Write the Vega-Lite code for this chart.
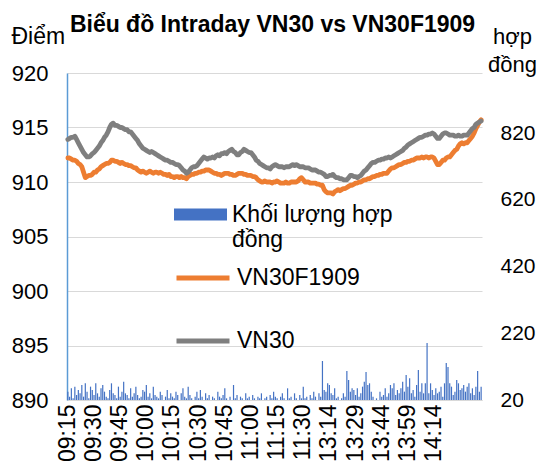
{
"$schema":"https://vega.github.io/schema/vega-lite/v6.json",
"width":415,"height":327,
"autosize":{"type":"none"},
"padding":{"left":67,"top":73,"right":68,"bottom":69},
"background":"white",
"config":{"font":"Liberation Sans","view":{"stroke":null},
"axis":{"labelFont":"Liberation Sans","titleFont":"Liberation Sans","labelColor":"black","titleColor":"black","labelFontSize":21,"titleFontSize":21,"titleFontWeight":"normal","ticks":false,"tickSize":0},
"legend":{"labelFont":"Liberation Sans","labelFontSize":23,"labelColor":"black"}},
"title":{"text":"Biểu đồ Intraday VN30 vs VN30F1909","font":"Liberation Sans","fontSize":23,"fontWeight":"bold","color":"black","frame":"group","anchor":"middle","dx":-2,"offset":-30,"baseline":"alphabetic"},
"data":{"values":[
{"t":"09:15","VN30":913.9,"VN30F1909":912.2,"v":45},
{"t":"09:16","VN30":914.0,"VN30F1909":912.2,"v":30},
{"t":"09:17","VN30":914.1,"VN30F1909":912.1,"v":55},
{"t":"09:18","VN30":914.1,"VN30F1909":912.0,"v":25},
{"t":"09:19","VN30":914.2,"VN30F1909":912.0,"v":60},
{"t":"09:20","VN30":913.9,"VN30F1909":911.9,"v":35},
{"t":"09:21","VN30":913.6,"VN30F1909":911.7,"v":50},
{"t":"09:22","VN30":913.3,"VN30F1909":911.6,"v":40},
{"t":"09:23","VN30":913.0,"VN30F1909":911.4,"v":65},
{"t":"09:24","VN30":912.7,"VN30F1909":910.9,"v":30},
{"t":"09:25","VN30":912.5,"VN30F1909":910.4,"v":70},
{"t":"09:26","VN30":912.3,"VN30F1909":910.5,"v":45},
{"t":"09:27","VN30":912.3,"VN30F1909":910.6,"v":25},
{"t":"09:28","VN30":912.4,"VN30F1909":910.6,"v":60},
{"t":"09:29","VN30":912.6,"VN30F1909":910.7,"v":50},
{"t":"09:30","VN30":912.7,"VN30F1909":910.9,"v":35},
{"t":"09:31","VN30":912.9,"VN30F1909":910.9,"v":70},
{"t":"09:32","VN30":913.1,"VN30F1909":911.1,"v":40},
{"t":"09:33","VN30":913.3,"VN30F1909":911.2,"v":30},
{"t":"09:34","VN30":913.6,"VN30F1909":911.4,"v":55},
{"t":"09:35","VN30":913.8,"VN30F1909":911.5,"v":65},
{"t":"09:36","VN30":914.1,"VN30F1909":911.6,"v":45},
{"t":"09:37","VN30":914.3,"VN30F1909":911.7,"v":30},
{"t":"09:38","VN30":914.6,"VN30F1909":911.7,"v":25},
{"t":"09:39","VN30":915.0,"VN30F1909":911.8,"v":50},
{"t":"09:40","VN30":915.3,"VN30F1909":912.0,"v":70},
{"t":"09:41","VN30":915.4,"VN30F1909":912.0,"v":40},
{"t":"09:42","VN30":915.2,"VN30F1909":911.9,"v":35},
{"t":"09:43","VN30":915.2,"VN30F1909":911.9,"v":25},
{"t":"09:44","VN30":915.1,"VN30F1909":911.8,"v":60},
{"t":"09:45","VN30":915.0,"VN30F1909":911.7,"v":30},
{"t":"09:46","VN30":915.0,"VN30F1909":911.8,"v":45},
{"t":"09:47","VN30":914.9,"VN30F1909":911.7,"v":75},
{"t":"09:48","VN30":914.8,"VN30F1909":911.6,"v":40},
{"t":"09:49","VN30":914.8,"VN30F1909":911.6,"v":35},
{"t":"09:50","VN30":914.6,"VN30F1909":911.5,"v":25},
{"t":"09:51","VN30":914.6,"VN30F1909":911.5,"v":55},
{"t":"09:52","VN30":914.4,"VN30F1909":911.4,"v":30},
{"t":"09:53","VN30":914.2,"VN30F1909":911.3,"v":40},
{"t":"09:54","VN30":914.0,"VN30F1909":911.3,"v":60},
{"t":"09:55","VN30":913.8,"VN30F1909":911.1,"v":35},
{"t":"09:56","VN30":913.5,"VN30F1909":911.0,"v":25},
{"t":"09:57","VN30":913.3,"VN30F1909":910.9,"v":30},
{"t":"09:58","VN30":913.1,"VN30F1909":911.0,"v":50},
{"t":"09:59","VN30":913.0,"VN30F1909":910.9,"v":45},
{"t":"10:00","VN30":912.9,"VN30F1909":910.8,"v":65},
{"t":"10:01","VN30":912.8,"VN30F1909":910.9,"v":30},
{"t":"10:02","VN30":912.7,"VN30F1909":911.0,"v":40},
{"t":"10:03","VN30":912.8,"VN30F1909":910.9,"v":25},
{"t":"10:04","VN30":912.7,"VN30F1909":910.8,"v":60},
{"t":"10:05","VN30":912.6,"VN30F1909":910.9,"v":35},
{"t":"10:06","VN30":912.5,"VN30F1909":910.9,"v":30},
{"t":"10:07","VN30":912.4,"VN30F1909":910.8,"v":25},
{"t":"10:08","VN30":912.3,"VN30F1909":910.9,"v":45},
{"t":"10:09","VN30":912.2,"VN30F1909":910.8,"v":35},
{"t":"10:10","VN30":912.1,"VN30F1909":910.7,"v":20},
{"t":"10:11","VN30":912.0,"VN30F1909":910.7,"v":30},
{"t":"10:12","VN30":912.0,"VN30F1909":910.6,"v":50},
{"t":"10:13","VN30":911.9,"VN30F1909":910.7,"v":25},
{"t":"10:14","VN30":911.8,"VN30F1909":910.5,"v":40},
{"t":"10:15","VN30":911.8,"VN30F1909":910.5,"v":30},
{"t":"10:16","VN30":911.7,"VN30F1909":910.4,"v":25},
{"t":"10:17","VN30":911.6,"VN30F1909":910.5,"v":45},
{"t":"10:18","VN30":911.6,"VN30F1909":910.5,"v":35},
{"t":"10:19","VN30":911.5,"VN30F1909":910.4,"v":20},
{"t":"10:20","VN30":911.3,"VN30F1909":910.5,"v":40},
{"t":"10:21","VN30":911.1,"VN30F1909":910.4,"v":55},
{"t":"10:22","VN30":911.0,"VN30F1909":910.4,"v":30},
{"t":"10:23","VN30":910.8,"VN30F1909":910.3,"v":25},
{"t":"10:24","VN30":910.9,"VN30F1909":910.5,"v":60},
{"t":"10:25","VN30":911.1,"VN30F1909":910.6,"v":35},
{"t":"10:26","VN30":911.3,"VN30F1909":910.7,"v":25},
{"t":"10:27","VN30":911.4,"VN30F1909":910.7,"v":20},
{"t":"10:28","VN30":911.4,"VN30F1909":910.8,"v":30},
{"t":"10:29","VN30":911.5,"VN30F1909":910.8,"v":45},
{"t":"10:30","VN30":911.7,"VN30F1909":910.9,"v":25},
{"t":"10:31","VN30":911.9,"VN30F1909":910.9,"v":50},
{"t":"10:32","VN30":912.1,"VN30F1909":911.0,"v":30},
{"t":"10:33","VN30":912.3,"VN30F1909":911.0,"v":20},
{"t":"10:34","VN30":912.2,"VN30F1909":911.1,"v":40},
{"t":"10:35","VN30":912.1,"VN30F1909":911.1,"v":25},
{"t":"10:36","VN30":912.2,"VN30F1909":911.1,"v":35},
{"t":"10:37","VN30":912.2,"VN30F1909":911.0,"v":20},
{"t":"10:38","VN30":912.3,"VN30F1909":910.9,"v":30},
{"t":"10:39","VN30":912.2,"VN30F1909":910.8,"v":25},
{"t":"10:40","VN30":912.4,"VN30F1909":910.8,"v":20},
{"t":"10:41","VN30":912.5,"VN30F1909":910.7,"v":45},
{"t":"10:42","VN30":912.4,"VN30F1909":910.7,"v":30},
{"t":"10:43","VN30":912.6,"VN30F1909":910.6,"v":25},
{"t":"10:44","VN30":912.6,"VN30F1909":910.7,"v":35},
{"t":"10:45","VN30":912.7,"VN30F1909":910.8,"v":55},
{"t":"10:46","VN30":912.6,"VN30F1909":910.8,"v":25},
{"t":"10:47","VN30":912.8,"VN30F1909":910.8,"v":20},
{"t":"10:48","VN30":912.9,"VN30F1909":910.7,"v":30},
{"t":"10:49","VN30":913.0,"VN30F1909":910.7,"v":20},
{"t":"10:50","VN30":912.8,"VN30F1909":910.6,"v":65},
{"t":"10:51","VN30":912.7,"VN30F1909":910.6,"v":25},
{"t":"10:52","VN30":912.5,"VN30F1909":910.7,"v":35},
{"t":"10:53","VN30":912.5,"VN30F1909":910.8,"v":20},
{"t":"10:54","VN30":912.7,"VN30F1909":910.8,"v":30},
{"t":"10:55","VN30":912.8,"VN30F1909":910.8,"v":25},
{"t":"10:56","VN30":913.0,"VN30F1909":910.7,"v":20},
{"t":"10:57","VN30":912.9,"VN30F1909":910.7,"v":40},
{"t":"10:58","VN30":912.8,"VN30F1909":910.6,"v":25},
{"t":"10:59","VN30":912.7,"VN30F1909":910.6,"v":30},
{"t":"11:00","VN30":912.7,"VN30F1909":910.6,"v":20},
{"t":"11:01","VN30":912.5,"VN30F1909":910.5,"v":35},
{"t":"11:02","VN30":912.3,"VN30F1909":910.5,"v":25},
{"t":"11:03","VN30":912.0,"VN30F1909":910.4,"v":20},
{"t":"11:04","VN30":911.9,"VN30F1909":910.2,"v":30},
{"t":"11:05","VN30":911.7,"VN30F1909":910.1,"v":25},
{"t":"11:06","VN30":911.6,"VN30F1909":910.0,"v":40},
{"t":"11:07","VN30":911.5,"VN30F1909":910.0,"v":20},
{"t":"11:08","VN30":911.4,"VN30F1909":910.1,"v":25},
{"t":"11:09","VN30":911.3,"VN30F1909":910.0,"v":30},
{"t":"11:10","VN30":911.3,"VN30F1909":910.0,"v":20},
{"t":"11:11","VN30":911.2,"VN30F1909":910.0,"v":35},
{"t":"11:12","VN30":911.4,"VN30F1909":909.9,"v":25},
{"t":"11:13","VN30":911.5,"VN30F1909":910.0,"v":45},
{"t":"11:14","VN30":911.6,"VN30F1909":910.0,"v":30},
{"t":"11:15","VN30":911.5,"VN30F1909":910.1,"v":25},
{"t":"11:16","VN30":911.4,"VN30F1909":910.0,"v":20},
{"t":"11:17","VN30":911.4,"VN30F1909":909.9,"v":30},
{"t":"11:18","VN30":911.4,"VN30F1909":909.9,"v":40},
{"t":"11:19","VN30":911.3,"VN30F1909":909.9,"v":25},
{"t":"11:20","VN30":911.4,"VN30F1909":910.0,"v":20},
{"t":"11:21","VN30":911.4,"VN30F1909":909.9,"v":55},
{"t":"11:22","VN30":911.4,"VN30F1909":909.9,"v":25},
{"t":"11:23","VN30":911.5,"VN30F1909":910.0,"v":30},
{"t":"11:24","VN30":911.6,"VN30F1909":910.0,"v":20},
{"t":"11:25","VN30":911.5,"VN30F1909":910.0,"v":40},
{"t":"11:26","VN30":911.6,"VN30F1909":910.0,"v":25},
{"t":"11:27","VN30":911.5,"VN30F1909":910.1,"v":20},
{"t":"11:28","VN30":911.4,"VN30F1909":910.3,"v":35},
{"t":"11:29","VN30":911.4,"VN30F1909":910.4,"v":25},
{"t":"11:30","VN30":911.4,"VN30F1909":910.2,"v":60},
{"t":"13:00","VN30":911.3,"VN30F1909":910.0,"v":25},
{"t":"13:01","VN30":911.3,"VN30F1909":910.0,"v":30},
{"t":"13:02","VN30":911.3,"VN30F1909":910.0,"v":20},
{"t":"13:03","VN30":911.2,"VN30F1909":909.9,"v":35},
{"t":"13:04","VN30":911.1,"VN30F1909":909.9,"v":25},
{"t":"13:05","VN30":911.1,"VN30F1909":909.9,"v":45},
{"t":"13:06","VN30":911.1,"VN30F1909":909.9,"v":30},
{"t":"13:07","VN30":911.0,"VN30F1909":909.8,"v":20},
{"t":"13:08","VN30":910.9,"VN30F1909":909.8,"v":40},
{"t":"13:09","VN30":910.9,"VN30F1909":909.7,"v":30},
{"t":"13:10","VN30":910.8,"VN30F1909":909.7,"v":137},
{"t":"13:11","VN30":910.7,"VN30F1909":909.3,"v":50},
{"t":"13:12","VN30":910.5,"VN30F1909":909.1,"v":45},
{"t":"13:13","VN30":910.5,"VN30F1909":909.0,"v":70},
{"t":"13:14","VN30":910.6,"VN30F1909":909.0,"v":65},
{"t":"13:15","VN30":910.6,"VN30F1909":909.0,"v":40},
{"t":"13:16","VN30":910.7,"VN30F1909":908.9,"v":35},
{"t":"13:17","VN30":910.5,"VN30F1909":909.1,"v":55},
{"t":"13:18","VN30":910.4,"VN30F1909":909.2,"v":25},
{"t":"13:19","VN30":910.4,"VN30F1909":909.3,"v":30},
{"t":"13:20","VN30":910.3,"VN30F1909":909.2,"v":20},
{"t":"13:21","VN30":910.3,"VN30F1909":909.3,"v":25},
{"t":"13:22","VN30":910.2,"VN30F1909":909.4,"v":40},
{"t":"13:23","VN30":910.2,"VN30F1909":909.4,"v":30},
{"t":"13:24","VN30":910.2,"VN30F1909":909.5,"v":107},
{"t":"13:25","VN30":910.4,"VN30F1909":909.6,"v":80},
{"t":"13:26","VN30":910.6,"VN30F1909":909.7,"v":45},
{"t":"13:27","VN30":910.6,"VN30F1909":909.7,"v":55},
{"t":"13:28","VN30":910.5,"VN30F1909":909.8,"v":50},
{"t":"13:29","VN30":910.5,"VN30F1909":909.9,"v":35},
{"t":"13:30","VN30":910.4,"VN30F1909":909.9,"v":55},
{"t":"13:31","VN30":910.5,"VN30F1909":910.0,"v":30},
{"t":"13:32","VN30":910.6,"VN30F1909":910.0,"v":40},
{"t":"13:33","VN30":910.8,"VN30F1909":910.1,"v":60},
{"t":"13:34","VN30":911.0,"VN30F1909":910.2,"v":75},
{"t":"13:35","VN30":911.1,"VN30F1909":910.2,"v":104},
{"t":"13:36","VN30":911.3,"VN30F1909":910.3,"v":65},
{"t":"13:37","VN30":911.5,"VN30F1909":910.3,"v":70},
{"t":"13:38","VN30":911.7,"VN30F1909":910.4,"v":45},
{"t":"13:39","VN30":911.8,"VN30F1909":910.5,"v":30},
{"t":"13:40","VN30":911.8,"VN30F1909":910.5,"v":20},
{"t":"13:41","VN30":911.9,"VN30F1909":910.6,"v":25},
{"t":"13:42","VN30":912.0,"VN30F1909":910.6,"v":20},
{"t":"13:43","VN30":912.0,"VN30F1909":910.7,"v":45},
{"t":"13:44","VN30":912.1,"VN30F1909":910.7,"v":30},
{"t":"13:45","VN30":912.1,"VN30F1909":910.8,"v":35},
{"t":"13:46","VN30":912.2,"VN30F1909":910.8,"v":55},
{"t":"13:47","VN30":912.2,"VN30F1909":910.8,"v":30},
{"t":"13:48","VN30":912.3,"VN30F1909":911.0,"v":40},
{"t":"13:49","VN30":912.2,"VN30F1909":911.2,"v":65},
{"t":"13:50","VN30":912.3,"VN30F1909":911.3,"v":55},
{"t":"13:51","VN30":912.4,"VN30F1909":911.3,"v":70},
{"t":"13:52","VN30":912.5,"VN30F1909":911.4,"v":35},
{"t":"13:53","VN30":912.6,"VN30F1909":911.5,"v":50},
{"t":"13:54","VN30":912.7,"VN30F1909":911.6,"v":40},
{"t":"13:55","VN30":912.8,"VN30F1909":911.6,"v":55},
{"t":"13:56","VN30":912.9,"VN30F1909":911.7,"v":75},
{"t":"13:57","VN30":913.1,"VN30F1909":911.8,"v":45},
{"t":"13:58","VN30":913.2,"VN30F1909":911.8,"v":95},
{"t":"13:59","VN30":913.4,"VN30F1909":911.9,"v":60},
{"t":"14:00","VN30":913.5,"VN30F1909":911.9,"v":85},
{"t":"14:01","VN30":913.6,"VN30F1909":912.0,"v":40},
{"t":"14:02","VN30":913.7,"VN30F1909":912.0,"v":50},
{"t":"14:03","VN30":913.8,"VN30F1909":912.1,"v":30},
{"t":"14:04","VN30":913.9,"VN30F1909":912.2,"v":65},
{"t":"14:05","VN30":914.0,"VN30F1909":912.2,"v":110},
{"t":"14:06","VN30":914.1,"VN30F1909":912.2,"v":45},
{"t":"14:07","VN30":914.1,"VN30F1909":912.3,"v":70},
{"t":"14:08","VN30":914.2,"VN30F1909":912.2,"v":40},
{"t":"14:09","VN30":914.3,"VN30F1909":912.3,"v":70},
{"t":"14:10","VN30":914.3,"VN30F1909":912.3,"v":191},
{"t":"14:11","VN30":914.4,"VN30F1909":912.2,"v":40},
{"t":"14:12","VN30":914.4,"VN30F1909":912.3,"v":70},
{"t":"14:13","VN30":914.5,"VN30F1909":912.3,"v":50},
{"t":"14:14","VN30":914.4,"VN30F1909":912.2,"v":35},
{"t":"14:15","VN30":914.2,"VN30F1909":911.9,"v":55},
{"t":"14:16","VN30":914.0,"VN30F1909":911.6,"v":40},
{"t":"14:17","VN30":914.0,"VN30F1909":911.6,"v":45},
{"t":"14:18","VN30":914.2,"VN30F1909":911.8,"v":60},
{"t":"14:19","VN30":914.4,"VN30F1909":912.0,"v":30},
{"t":"14:20","VN30":914.5,"VN30F1909":912.0,"v":70},
{"t":"14:21","VN30":914.5,"VN30F1909":912.2,"v":131},
{"t":"14:22","VN30":914.4,"VN30F1909":912.3,"v":119},
{"t":"14:23","VN30":914.3,"VN30F1909":912.3,"v":70},
{"t":"14:24","VN30":914.3,"VN30F1909":912.5,"v":60},
{"t":"14:25","VN30":914.3,"VN30F1909":912.7,"v":35},
{"t":"14:26","VN30":914.2,"VN30F1909":912.9,"v":45},
{"t":"14:27","VN30":914.2,"VN30F1909":913.0,"v":80},
{"t":"14:28","VN30":914.3,"VN30F1909":913.3,"v":70},
{"t":"14:29","VN30":914.2,"VN30F1909":913.5,"v":50},
{"t":"14:30","VN30":914.2,"VN30F1909":913.6,"v":55},
{"t":"14:31","VN30":914.3,"VN30F1909":913.5,"v":65},
{"t":"14:32","VN30":914.3,"VN30F1909":913.6,"v":45},
{"t":"14:33","VN30":914.3,"VN30F1909":913.6,"v":60},
{"t":"14:34","VN30":914.5,"VN30F1909":913.8,"v":70},
{"t":"14:35","VN30":914.7,"VN30F1909":914.0,"v":40},
{"t":"14:36","VN30":914.9,"VN30F1909":914.2,"v":55},
{"t":"14:37","VN30":915.0,"VN30F1909":914.5,"v":35},
{"t":"14:38","VN30":915.3,"VN30F1909":914.9,"v":60},
{"t":"14:39","VN30":915.4,"VN30F1909":915.2,"v":107},
{"t":"14:40","VN30":915.5,"VN30F1909":915.5,"v":45},
{"t":"14:41","VN30":915.6,"VN30F1909":915.7,"v":60}
]},
"encoding":{"x":{"field":"t","type":"ordinal","sort":null,"scale":{"type":"band","paddingInner":0,"paddingOuter":0},
"axis":{"title":null,"values":["09:15","09:30","09:45","10:00","10:15","10:30","10:45","11:00","11:15","11:30","13:14","13:29","13:44","13:59","14:14"],"labelAngle":-90,"labelFontSize":23,"labelPadding":4,"domainColor":"#D9D9D9","domainWidth":1,"grid":false}}},
"layer":[
{"mark":{"type":"bar","width":1.2},
"encoding":{"y":{"field":"v","type":"quantitative","scale":{"domain":[20,1000],"zero":false,"nice":false},
"axis":{"orient":"right","values":[20,220,420,620,820],"grid":false,"domain":false,"labelPadding":18,"labelFontSize":21,"title":["hợp","đồng"],"titleAngle":0,"titleAlign":"center","titleBaseline":"alphabetic","titleX":30,"titleY":-30,"titleLineHeight":28,"titleFontSize":22}},
"y2":{"datum":20},
"fill":{"datum":"Khối lượng hợp đồng","type":"nominal","scale":{"range":["#4472C4"]},
"legend":{"orient":"none","legendX":107,"legendY":115,"title":null,"symbolType":"M-1,-0.23H1V0.23H-1Z","symbolSize":2809,"symbolStrokeWidth":0,"labelExpr":"['Khối lượng hợp','đồng']","labelLimit":0,"padding":0,"labelOffset":5}}}},
{"transform":[{"fold":["VN30F1909","VN30"],"as":["s","p"]}],
"mark":{"type":"line","strokeWidth":4.8,"strokeJoin":"round","strokeCap":"round"},
"encoding":{"x":{"field":"t","type":"ordinal","sort":null,"bandPosition":0.5},
"y":{"field":"p","type":"quantitative","scale":{"domain":[890,920],"zero":false,"nice":false},
"axis":{"orient":"left","values":[890,895,900,905,910,915,920],"grid":true,"gridColor":"#D9D9D9","gridWidth":1,"domain":true,"domainColor":"#5B9BD5","domainWidth":1.5,"labelPadding":19,"labelFontSize":22,"title":"Điểm","titleAngle":0,"titleAlign":"left","titleBaseline":"alphabetic","titleX":-56,"titleY":-30,"titleFontSize":23}},
"stroke":{"field":"s","type":"nominal","scale":{"domain":["VN30F1909","VN30"],"range":["#ED7D31","#7F7F7F"]},
"legend":{"orient":"none","legendX":107,"legendY":176,"title":null,"symbolType":"stroke","symbolSize":2809,"symbolStrokeWidth":5,"rowPadding":22,"padding":0,"labelOffset":5,"labelLimit":0}}}}
],
"resolve":{"scale":{"y":"independent"},"axis":{"y":"independent"}}
}
